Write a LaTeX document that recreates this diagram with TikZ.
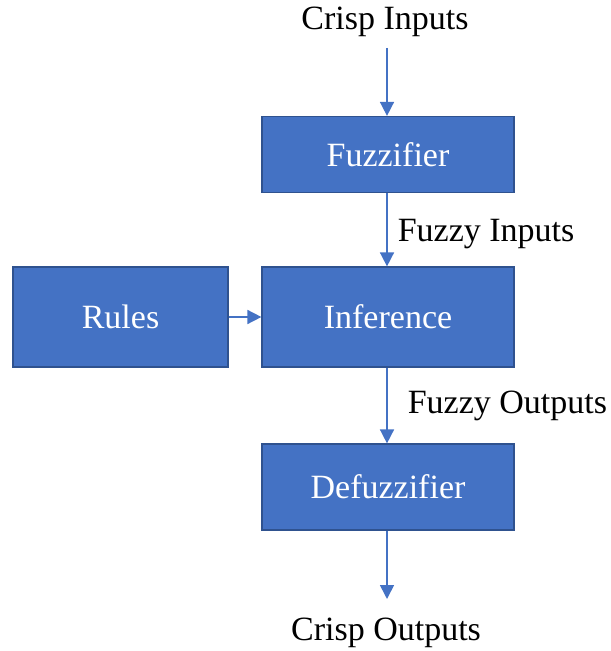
\documentclass[tikz,border=0pt]{standalone}
\usepackage{fontspec}
\setmainfont{Liberation Serif}
\usetikzlibrary{arrows.meta}
\definecolor{boxblue}{HTML}{4472C4}
\definecolor{edgeblue}{HTML}{2F528F}
\begin{document}
\begin{tikzpicture}[x=0.5pt,y=-0.5pt,
  block/.style={rectangle, fill=boxblue, draw=edgeblue, line width=0.6pt,
    text=white, inner sep=0pt, font=\fontsize{17}{20}\selectfont},
  lbl/.style={inner sep=0pt, font=\fontsize{17}{20}\selectfont},
  flow/.style={draw=boxblue, line width=0.8pt,
    -{Triangle[length=7pt,width=7pt]}}]
\useasboundingbox (0,0) rectangle (610,651);

% processing blocks
\node[block, minimum width=126pt, minimum height=38pt] (fuz) at (388,154.5) {Fuzzifier};
\node[block, minimum width=126pt, minimum height=50pt] (inf) at (388,317) {Inference};
\node[block, minimum width=107.5pt, minimum height=50pt] (rul) at (120.5,317) {Rules};
\node[block, minimum width=126pt, minimum height=43pt] (def) at (388,487) {Defuzzifier};

% outer labels
\node[lbl] (cin) at (385,22) {Crisp Inputs};
\node[lbl] (cout) at (386,633) {Crisp Outputs};
\coordinate (cinend) at (387,48);
\coordinate (coutend) at (387,599);

% connectors
\draw[flow] (cinend) -- (cinend |- fuz.north);
\draw[flow] (fuz.south -| cinend) -- (inf.north -| cinend)
  node[midway, lbl, anchor=west, xshift=5pt, yshift=-2pt] (fin) {Fuzzy Inputs};
\draw[flow] (rul.east) -- (inf.west);
\draw[flow] (inf.south -| cinend) -- (def.north -| cinend)
  node[midway, lbl, anchor=west, xshift=10pt, yshift=0pt] (fout) {Fuzzy Outputs};
\draw[flow] (def.south -| coutend) -- (coutend);
\end{tikzpicture}
\end{document}
